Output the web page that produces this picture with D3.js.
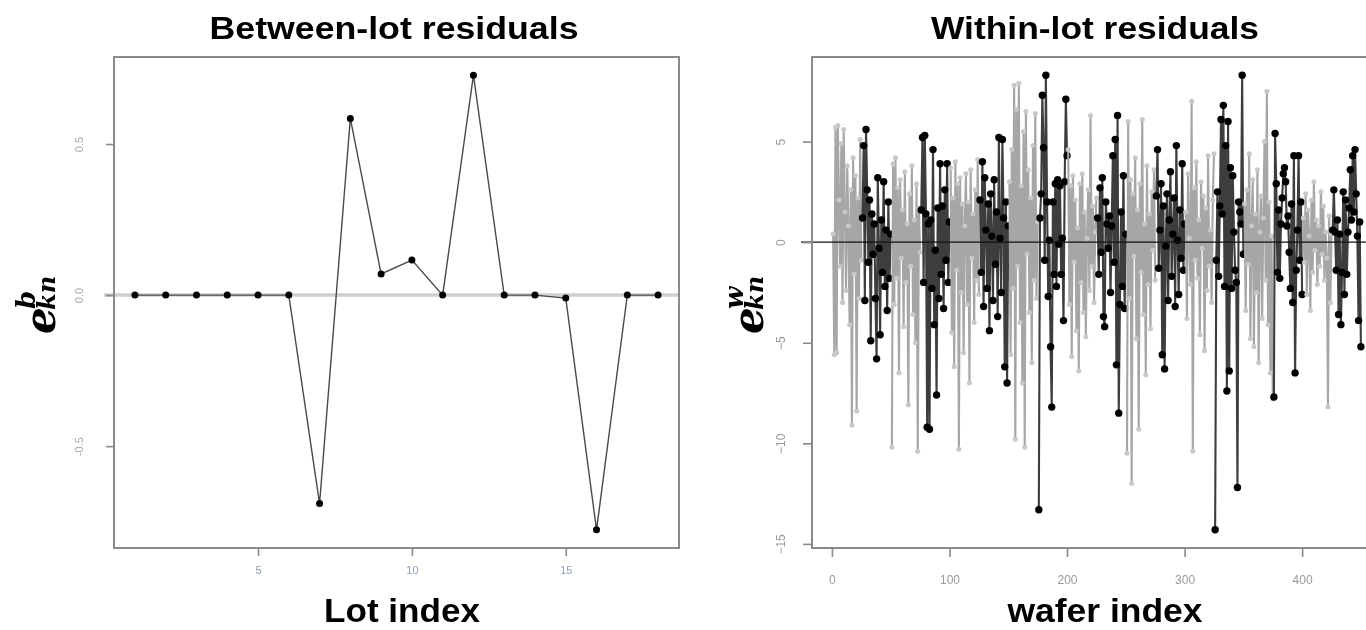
<!DOCTYPE html>
<html><head><meta charset="utf-8">
<script src="https://cdn.jsdelivr.net/npm/d3@7"></script>
<style>body{margin:0;background:#fff}svg{display:block}</style>
</head><body>
<svg id="chart" width="1366" height="630"></svg>
<script>
// ---------- Between-lot residuals ----------
const lotIndex = [1,2,3,4,5,6,7,8,9,10,11,12,13,14,15,16,17,18];
const betweenResiduals = [0,0,0,0,0,0,-0.69,0.585,0.07,0.116,0,0.728,0,0,-0.01,-0.777,0,0];
const betweenXTicks = [5,10,15];
const betweenYTicks = [-0.5,0,0.5];
const betweenYTickLabels = ["-0.5","0.0","0.5"];

// ---------- Within-lot residuals (25 wafers per lot) ----------
const lot01 = [0.4,-5.6,5.7,-5.5,5.8,2.1,-1.2,4.9,-3.0,5.6,1.5,-2.4,3.8,0.8,-4.1,2.6,-9.1,4.2,-1.6,3.3,-8.4,2.2,-2.8,5.1,-0.9];
const lot02 = [1.2,4.8,-2.9,5.6,2.6,-1.0,2.1,-4.9,1.4,-0.6,0.9,-2.8,-5.8,3.2,-0.3,-4.6,1.1,-1.5,3.0,-2.2,0.6,-3.4,2.0,-1.8,0.4];
const lot03 = [-10.2,3.9,-3.1,4.2,-1.8,2.7,-6.5,3.1,-0.8,1.6,-4.2,3.5,-2.0,0.9,-8.1,2.4,-1.2,3.8,-3.6,1.1,-5.0,2.9,-10.4,1.7,-0.5];
const lot04 = [1.6,5.2,-2.0,5.3,1.4,-9.2,0.9,-9.3,1.1,-2.3,4.6,-4.1,-0.4,-7.6,1.7,-2.8,3.9,-1.6,1.8,-3.3,2.6,-0.9,3.9,-2.0,1.0];
const lot05 = [3.7,-4.5,2.2,-6.2,4.0,-1.4,2.9,-10.3,3.2,-2.5,1.9,-5.5,0.8,3.4,-3.1,2.0,-7.0,3.6,-0.8,1.4,-4.0,2.6,-1.9,4.1,-2.6];
const lot06 = [2.1,-1.5,4.0,-3.2,3.2,0.6,-2.3,1.9,-4.4,2.4,0.3,-2.9,3.1,-1.1,1.5,-3.7,5.2,0.2,-2.5,5.1,1.2,-6.2,2.0,-7.0,0.8];
const lot07 = [3.0,-5.6,4.6,-2.3,7.8,-9.8,6.6,-1.2,7.9,-4.0,2.8,-7.0,5.5,-10.2,6.5,-0.6,3.6,-3.5,2.2,-6.0,4.8,-1.9,6.4,-2.8,1.0];
const lot08 = [-13.3,1.2,2.4,7.3,4.7,-0.9,8.3,2.0,-2.7,0.1,-5.2,-8.2,2.0,-1.6,2.9,-2.2,3.1,-0.1,2.8,-1.6,0.2,-3.9,3.0,7.1,4.3];
const lot09 = [4.6,-3.1,2.8,-5.7,3.3,-1.0,2.1,-4.4,0.7,-6.4,2.9,-2.0,3.4,-3.5,1.5,-4.7,0.2,2.6,-2.4,6.3,-1.2,1.8,-3.0,0.5,2.2];
const lot10 = [1.2,-1.6,2.7,-0.5,3.2,-3.7,-4.2,2.0,0.9,-0.3,1.3,-2.5,0.8,4.3,-1.0,5.1,-6.1,6.3,-8.5,-3.1,1.5,-2.2,3.3,-3.3,0.4];
const lot11 = [-10.5,6.0,-2.8,3.1,-12.0,2.4,-0.7,4.2,-4.8,1.6,-9.3,2.9,-1.5,6.1,-3.6,0.9,-6.6,3.8,-2.1,1.4,-4.3,2.5,-0.4,3.6,-1.9];
const lot12 = [2.3,4.6,-1.3,0.6,2.9,-5.6,1.8,-6.3,-0.2,2.4,-2.9,1.1,3.5,-1.7,0.4,2.2,-3.2,4.8,0.1,-2.6,1.6,-0.8,3.9,-1.4,0.9];
const lot13 = [1.5,-3.8,3.4,0.2,-2.1,7.0,-10.4,2.7,-0.9,4.0,-1.8,1.1,-4.6,3.0,-0.3,2.3,-5.4,1.7,-2.4,4.3,-1.2,0.6,-3.0,2.1,4.4];
const lot14 = [-14.3,-0.9,2.5,-1.7,1.8,6.1,1.4,6.8,-2.2,4.8,-7.4,6.0,-6.4,3.7,-2.3,3.3,0.5,-1.4,-2.0,-12.2,2.0,1.5,0.9,8.3,-0.6];
const lot15 = [1.9,-3.4,2.6,-1.1,4.4,-4.8,0.8,3.1,-5.2,1.4,-2.5,3.6,-6.0,0.5,2.3,-3.8,1.2,5.0,-1.9,7.5,-4.1,2.0,-6.5,0.3,-7.8];
const lot16 = [-7.7,5.4,2.9,-1.5,1.6,-1.8,0.9,2.2,3.4,3.7,3.0,0.8,1.3,-0.5,-2.3,1.9,-3.0,4.3,-6.5,-1.4,0.6,4.3,-0.9,2.0,-2.6];
const lot17 = [1.2,-1.0,2.4,-2.6,1.6,0.3,-3.4,2.1,-1.5,3.0,-0.4,1.1,-2.1,0.8,-1.2,2.5,-0.6,1.8,-1.9,0.5,-0.8,-8.2,1.3,-3.0,0.4];
const lot18 = [0.6,2.6,0.5,-1.4,1.1,-3.6,0.4,-4.1,-1.5,2.5,-2.6,2.1,-1.6,0.5,1.7,3.6,1.1,4.3,1.5,4.6,2.4,0.3,-3.9,1.0,-5.2];
const withinLots = [lot01,lot02,lot03,lot04,lot05,lot06,lot07,lot08,lot09,lot10,lot11,lot12,lot13,lot14,lot15,lot16,lot17,lot18];
const withinXTicks = [0,100,200,300,400];
const withinYTicks = [-15,-10,-5,0,5];

// ---------- drawing ----------
const svg = d3.select("#chart");
const defs = svg.append("defs");
defs.append("filter").attr("id","soft").append("feGaussianBlur").attr("stdDeviation",0.6);
const root = svg.append("g").attr("filter","url(#soft)");

function rExpand(ext){ const d = (ext[1]-ext[0])*0.04; return [ext[0]-d, ext[1]+d]; }

function yLabel(g, x, sup){
  const t = g.append("g").attr("transform",`translate(${x},0) rotate(-90)`)
    .style("font-family","'DejaVu Serif','Liberation Serif',serif").style("font-style","italic").style("font-weight","bold").attr("fill","#000");
  t.append("text").attr("x",-334).attr("y",13).style("font-size","42px").text("e");
  t.append("text").attr("x",-309).attr("y",-7).style("font-size","26px").text(sup);
  t.append("text").attr("x",-310).attr("y",13).style("font-size","24px").text("kn");
}

// ===== Left panel =====
{
  const L = {l:114, r:679, t:57, b:548};
  const x = d3.scaleLinear().domain(rExpand(d3.extent(lotIndex))).range([L.l, L.r]);
  const y = d3.scaleLinear().domain(rExpand(d3.extent(betweenResiduals))).range([L.b, L.t]);
  const g = root.append("g");

  g.append("line").attr("x1",104).attr("x2",L.r).attr("y1",y(0)).attr("y2",y(0))
    .attr("stroke","#cfcfcf").attr("stroke-width",3.5);

  g.append("path").datum(lotIndex.map((d,i)=>[d,betweenResiduals[i]]))
    .attr("d", d3.line().x(d=>x(d[0])).y(d=>y(d[1])))
    .attr("fill","none").attr("stroke","#4a4a4a").attr("stroke-width",1.4);

  g.selectAll("circle").data(lotIndex).join("circle")
    .attr("cx",d=>x(d)).attr("cy",(d,i)=>y(betweenResiduals[i])).attr("r",3.5).attr("fill","#000");

  g.append("rect").attr("x",L.l).attr("y",L.t).attr("width",L.r-L.l).attr("height",L.b-L.t)
    .attr("fill","none").attr("stroke","#8a8a8a").attr("stroke-width",2);

  const ya = d3.axisLeft(y).tickValues(betweenYTicks).tickSize(8).tickFormat((d,i)=>betweenYTickLabels[i]);
  const yg = g.append("g").attr("transform",`translate(${L.l},0)`).call(ya);
  yg.select(".domain").remove();
  yg.selectAll(".tick line").attr("stroke","#8a8a8a").attr("stroke-width",1.6);
  yg.selectAll(".tick text").attr("x",0).attr("dx",0).attr("dy",0)
    .attr("transform","translate(-31,0) rotate(-90)").attr("text-anchor","middle")
    .style("font-family","'Liberation Sans',Arial,sans-serif").style("font-size","11px").attr("fill","#a8a8a8");

  const xa = d3.axisBottom(x).tickValues(betweenXTicks).tickSize(8).tickFormat(d3.format("d"));
  const xg = g.append("g").attr("transform",`translate(0,${L.b})`).call(xa);
  xg.select(".domain").remove();
  xg.selectAll(".tick line").attr("stroke","#8a8a8a").attr("stroke-width",1.6);
  xg.selectAll(".tick text").attr("y",26).attr("dy",0)
    .style("font-family","'Liberation Sans',Arial,sans-serif").style("font-size","11px").attr("fill","#8fa0b3");

  g.append("text").attr("x",394).attr("y",39).attr("text-anchor","middle")
    .style("font-family","'Liberation Sans',Arial,sans-serif").style("font-weight","bold").style("font-size","32px")
    .attr("textLength",369).attr("lengthAdjust","spacingAndGlyphs").text("Between-lot residuals");
  g.append("text").attr("x",402).attr("y",622).attr("text-anchor","middle")
    .style("font-family","'Liberation Sans',Arial,sans-serif").style("font-weight","bold").style("font-size","33px")
    .attr("textLength",156).attr("lengthAdjust","spacingAndGlyphs").text("Lot index");
  yLabel(g, 42, "b");
}

// ===== Right panel =====
{
  const n = withinLots.reduce((s,a)=>s+a.length,0);
  const all = withinLots.flat();
  const R = {l:812, r:1382, t:57, b:548};
  const x = d3.scaleLinear().domain(rExpand([1,n])).range([R.l, R.r]);
  const y = d3.scaleLinear().domain(rExpand(d3.extent(all))).range([R.b, R.t]);
  const g = root.append("g");

  let start = 1;
  const line = d3.line().x(d=>x(d[0])).y(d=>y(d[1]));
  withinLots.forEach((lot,k)=>{
    const pts = lot.map((v,i)=>[start+i, v]);
    start += lot.length;
    const dark = (k % 2 === 1);
    g.append("path").datum(pts).attr("d",line).attr("fill","none")
      .attr("stroke", dark ? "#3c3c3c" : "#a6a6a6").attr("stroke-width",2.1);
    g.append("g").selectAll("circle").data(pts).join("circle")
      .attr("cx",d=>x(d[0])).attr("cy",d=>y(d[1]))
      .attr("r", dark ? 3.7 : 2.5).attr("fill", dark ? "#000" : "#c8c8c8");
  });

  g.append("line").attr("x1",801).attr("x2",1366).attr("y1",y(0)).attr("y2",y(0))
    .attr("stroke","#111").attr("stroke-width",1.3);

  g.append("rect").attr("x",R.l).attr("y",R.t).attr("width",R.r-R.l).attr("height",R.b-R.t)
    .attr("fill","none").attr("stroke","#8a8a8a").attr("stroke-width",2);

  const ya = d3.axisLeft(y).tickValues(withinYTicks).tickSize(9).tickFormat(d3.format("d"));
  const yg = g.append("g").attr("transform",`translate(${R.l},0)`).call(ya);
  yg.select(".domain").remove();
  yg.selectAll(".tick line").attr("stroke","#8a8a8a").attr("stroke-width",1.6);
  yg.selectAll(".tick text").attr("x",0).attr("dx",0).attr("dy",0)
    .attr("transform","translate(-27,0) rotate(-90)").attr("text-anchor","middle")
    .style("font-family","'Liberation Sans',Arial,sans-serif").style("font-size","12px").attr("fill","#9a9a9a");

  const xa = d3.axisBottom(x).tickValues(withinXTicks).tickSize(9).tickFormat(d3.format("d"));
  const xg = g.append("g").attr("transform",`translate(0,${R.b})`).call(xa);
  xg.select(".domain").remove();
  xg.selectAll(".tick line").attr("stroke","#8a8a8a").attr("stroke-width",1.6);
  xg.selectAll(".tick text").attr("y",36).attr("dy",0)
    .style("font-family","'Liberation Sans',Arial,sans-serif").style("font-size","12px").attr("fill","#9a9a9a");

  g.append("text").attr("x",1095).attr("y",39).attr("text-anchor","middle")
    .style("font-family","'Liberation Sans',Arial,sans-serif").style("font-weight","bold").style("font-size","32px")
    .attr("textLength",328).attr("lengthAdjust","spacingAndGlyphs").text("Within-lot residuals");
  g.append("text").attr("x",1105).attr("y",622).attr("text-anchor","middle")
    .style("font-family","'Liberation Sans',Arial,sans-serif").style("font-weight","bold").style("font-size","33px")
    .attr("textLength",195).attr("lengthAdjust","spacingAndGlyphs").text("wafer index");
  yLabel(g, 750, "w");
}
</script>
</body></html>
